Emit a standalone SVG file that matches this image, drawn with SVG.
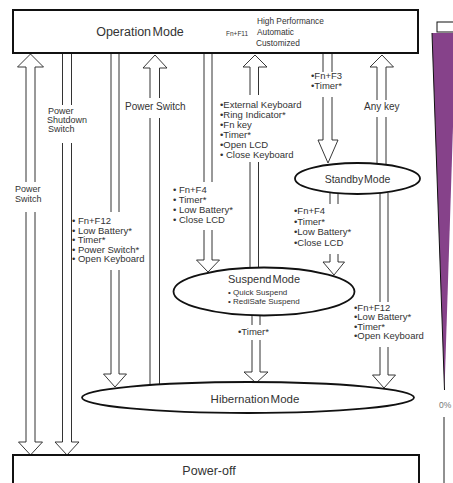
<svg xmlns="http://www.w3.org/2000/svg" width="453" height="483" viewBox="0 0 453 483">
<style>
.box{fill:#fff;stroke:#111;stroke-width:2}
.ell{fill:#fff;stroke:#111;stroke-width:1.8}
.ln{fill:none;stroke:#333;stroke-width:1}
.hd{fill:#fff;stroke:#222;stroke-width:0.9;stroke-linejoin:miter}
.t{font-family:"Liberation Sans",Arial,sans-serif;fill:#333}
.mid{font-size:10px}
.nar{font-size:9px}
.lst{font-size:9.5px}
</style>
<rect width="453" height="483" fill="#fff"/>

<g id="connectors">
  <!-- A1 Power Switch (both ways) -->
  <path class="hd" d="M26,67 L17.5,67 L30.5,54 L43.5,67 L35,67"/>
  <path class="ln" d="M26,67 V182 M35,67 V182 M26,212 V442 M35,212 V442"/>
  <path class="hd" d="M26,442 L18.5,442 L30.5,455 L42.5,442 L35,442"/>
  <!-- A2 Power Shutdown Switch -->
  <path class="ln" d="M62.5,53 V105 M71.5,53 V105 M62.5,143 V442 M71.5,143 V442"/>
  <path class="hd" d="M62.5,442 L55,442 L67,455 L79,442 L71.5,442"/>
  <!-- A3 to Hibernation -->
  <path class="ln" d="M111,53 V212 M119,53 V212 M111,270 V374 M119,270 V374"/>
  <path class="hd" d="M111,374 L103.5,374 L115,387 L126.5,374 L119,374"/>
  <!-- A4 Power Switch up -->
  <path class="hd" d="M150,68 L143,68 L155,55 L167,68 L159.5,68"/>
  <path class="ln" d="M150,68 V98 M159.5,68 V98 M150,118 V385 M159.5,118 V385"/>
  <!-- A5 to Suspend -->
  <path class="ln" d="M204,53 V182 M212,53 V182 M204,230 V260 M212,230 V260"/>
  <path class="hd" d="M204,260 L196.5,260 L208,272 L219.5,260 L212,260"/>
  <!-- A6 Suspend up -->
  <path class="hd" d="M250,67 L243,67 L255,55 L267,67 L258.5,67"/>
  <path class="ln" d="M250,67 V95 M258.5,67 V95 M250,162 V268 M258.5,162 V268"/>
  <!-- A7 to Standby -->
  <path class="ln" d="M323,53 V72 M332,53 V72 M323,97 V140 M332,97 V140"/>
  <path class="hd" d="M323,140 L318,140 L328,163 L338,140 L332,140"/>
  <!-- A8 Any key up -->
  <path class="hd" d="M377,67 L370,67 L382,55 L393.5,67 L386,67"/>
  <path class="ln" d="M377,67 V100 M386,67 V100 M377,117 V164 M386,117 V164"/>
  <!-- A9 Standby to Hibernation -->
  <path class="ln" d="M380,193 V302 M388,193 V302 M380,347 V375 M388,347 V375"/>
  <path class="hd" d="M380,375 L372.5,375 L384,388 L395.5,375 L388,375"/>
  <!-- A10 Standby to Suspend -->
  <path class="ln" d="M330,193 V204 M338,193 V204 M330,254 V262 M338,254 V262"/>
  <path class="hd" d="M330,262 L323,262 L334,275 L344.5,262 L338,262"/>
  <!-- A11 Suspend to Hibernation -->
  <path class="ln" d="M252,315 V325 M260,315 V325 M252,340 V372 M260,340 V372"/>
  <path class="hd" d="M252,372 L244,372 L256,383 L268,372 L260,372"/>
  <!-- Fn+F11 bracket -->
  <path class="ln" d="M264,13 H239 V25 M239,42 V51 H264"/>
  <polygon points="239,37 236.3,42.5 241.7,42.5" fill="#111"/>
</g>

<g id="labels">
  <text class="t nar"><tspan x="15" y="192">Power</tspan><tspan x="15" y="201.5">Switch</tspan></text>
  <text class="t nar"><tspan x="48" y="113.5">Power</tspan><tspan x="47" y="122.5">Shutdown</tspan><tspan x="48" y="131.5">Switch</tspan></text>
  <text class="t lst"><tspan x="72" y="224">• Fn+F12</tspan><tspan x="72" y="233.5">• Low Battery*</tspan><tspan x="72" y="243">• Timer*</tspan><tspan x="72" y="252.5">• Power Switch*</tspan><tspan x="72" y="262">• Open Keyboard</tspan></text>
  <text class="t mid" x="125" y="110">Power Switch</text>
  <text class="t lst"><tspan x="173" y="192.5">• Fn+F4</tspan><tspan x="173" y="203">• Timer*</tspan><tspan x="173" y="213">• Low Battery*</tspan><tspan x="173" y="222.5">• Close LCD</tspan></text>
  <text class="t lst"><tspan x="220" y="107.5">•External Keyboard</tspan><tspan x="220" y="117.5">•Ring Indicator*</tspan><tspan x="220" y="127.5">•Fn key</tspan><tspan x="220" y="138">•Timer*</tspan><tspan x="220" y="148">•Open LCD</tspan><tspan x="220" y="158">• Close Keyboard</tspan></text>
  <text class="t lst"><tspan x="311" y="79">•Fn+F3</tspan><tspan x="311" y="88.5">•Timer*</tspan></text>
  <text class="t mid" x="364" y="110">Any key</text>
  <text class="t lst"><tspan x="294" y="214">•Fn+F4</tspan><tspan x="294" y="224.5">•Timer*</tspan><tspan x="294" y="235">•Low Battery*</tspan><tspan x="294" y="245.5">•Close LCD</tspan></text>
  <text class="t lst"><tspan x="354" y="310.5">•Fn+F12</tspan><tspan x="354" y="320">•Low Battery*</tspan><tspan x="354" y="329.5">•Timer*</tspan><tspan x="354" y="339">•Open Keyboard</tspan></text>
  <text class="t lst" x="238" y="335">•Timer*</text>
</g>

<g id="operation-mode">
  <rect class="box" x="13" y="10" width="405" height="43"/>
  <text class="t" x="140" y="36" font-size="12.5" text-anchor="middle" word-spacing="-2">Operation Mode</text>
  <text class="t" x="226" y="35.5" font-size="6.5">Fn+F11</text>
  <text class="t" font-size="8.3"><tspan x="257" y="23.5">High Performance</tspan><tspan x="257" y="35">Automatic</tspan><tspan x="256" y="46">Customized</tspan></text>
</g>

<g id="standby-mode">
  <ellipse class="ell" cx="357.5" cy="178.5" rx="62.5" ry="15.5"/>
  <text class="t" x="357.5" y="182.5" font-size="10.5" text-anchor="middle" word-spacing="-2">Standby Mode</text>
</g>

<g id="suspend-mode">
  <ellipse class="ell" cx="264" cy="291.5" rx="90.5" ry="24"/>
  <text class="t" x="264" y="283" font-size="11" text-anchor="middle" word-spacing="-2">Suspend Mode</text>
  <text class="t" font-size="8"><tspan x="228" y="294.5">• Quick Suspend</tspan><tspan x="228" y="303.5">• RediSafe Suspend</tspan></text>
</g>

<g id="hibernation-mode">
  <ellipse class="ell" cx="248" cy="397.5" rx="166" ry="15.5"/>
  <text class="t" x="255" y="403" font-size="11.5" text-anchor="middle" word-spacing="-2">Hibernation Mode</text>
</g>

<g id="power-off">
  <rect class="box" x="13" y="455" width="406" height="32"/>
  <text class="t" x="209" y="475" font-size="12.5" text-anchor="middle">Power-off</text>
</g>

<g id="side-gauge">
  <rect x="437" y="22" width="20" height="10" fill="#fff" stroke="#111" stroke-width="1"/>
  <polygon points="432,33 456,33 444.5,390" fill="#86428a"/>
  <line x1="432" y1="33" x2="444.5" y2="390" stroke="#111" stroke-width="1"/>
  <text x="439" y="408" font-family="Liberation Sans, Arial, sans-serif" font-size="8.5" fill="#777">0%</text>
  <line x1="444" y1="417" x2="444" y2="483" stroke="#222" stroke-width="1"/>
</g>
</svg>
